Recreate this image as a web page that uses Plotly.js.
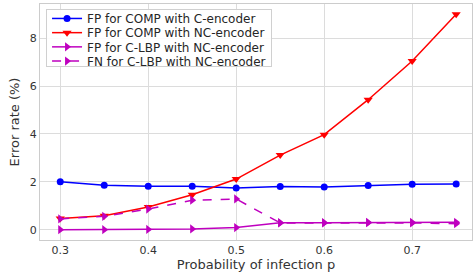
<!DOCTYPE html>
<html>
<head>
<meta charset="utf-8">
<script src="https://cdn.plot.ly/plotly-3.0.1.min.js"></script>
<style>html,body{margin:0;padding:0;background:#fff;}#chart{width:474px;height:273px;}</style>
</head>
<body>
<div id="chart"></div>
<script>
const pValues = [0.3, 0.35, 0.4, 0.45, 0.5, 0.55, 0.6, 0.65, 0.7, 0.75];
const fpCompC = [2.01, 1.86, 1.82, 1.82, 1.75, 1.81, 1.79, 1.85, 1.90, 1.91];
const fpCompNC = [0.48, 0.59, 0.96, 1.47, 2.12, 3.12, 3.97, 5.43, 7.04, 8.99];
const fpClbpNC = [0.01, 0.01, 0.02, 0.04, 0.10, 0.30, 0.30, 0.31, 0.31, 0.32];
const fnClbpNC = [0.46, 0.57, 0.87, 1.24, 1.29, 0.29, 0.29, 0.30, 0.29, 0.26];
const seriesNames = ["FP for COMP with C-encoder", "FP for COMP with NC-encoder", "FP for C-LBP with NC-encoder", "FN for C-LBP with NC-encoder"];

const traces = [
  {x: pValues, y: fpCompC, name: seriesNames[0], mode: 'lines+markers',
   line: {color: '#0000ff', width: 1.5}, marker: {symbol: 'circle', size: 7, color: '#0000ff'}},
  {x: pValues, y: fpCompNC, name: seriesNames[1], mode: 'lines+markers',
   line: {color: '#ff0000', width: 1.5}, marker: {symbol: 'triangle-down', size: 8, color: '#ff0000'}},
  {x: pValues, y: fpClbpNC, name: seriesNames[2], mode: 'lines+markers',
   line: {color: '#bf00bf', width: 1.5}, marker: {symbol: 'triangle-right', size: 8, color: '#bf00bf'}},
  {x: pValues, y: fnClbpNC, name: seriesNames[3], mode: 'lines+markers',
   line: {color: '#bf00bf', width: 1.5, dash: 'dash'}, marker: {symbol: 'triangle-right', size: 8, color: '#bf00bf'}}
];

const layout = {
  width: 474, height: 273,
  margin: {l: 40, r: 2, t: 4, b: 33},
  paper_bgcolor: '#ffffff', plot_bgcolor: '#ffffff',
  font: {family: 'DejaVu Sans, sans-serif', size: 11, color: '#333333'},
  showlegend: true,
  legend: {x: 0.014, y: 0.979, xanchor: 'left', yanchor: 'top', bgcolor: 'rgba(255,255,255,0.9)',
           bordercolor: '#d0d0d0', borderwidth: 1, font: {size: 12, color: '#262626'}, tracegroupgap: 0,
           itemwidth: 30},
  xaxis: {
    range: [0.277, 0.768], tickmode: 'array', tickvals: [0.3, 0.4, 0.5, 0.6, 0.7], ticktext: ['0.3','0.4','0.5','0.6','0.7'],
    showgrid: true, gridcolor: '#dcdcdc', gridwidth: 1, zeroline: false,
    showline: true, linecolor: '#cccccc', linewidth: 1, mirror: true, ticks: '',
    tickfont: {size: 11, color: '#333333'},
    title: {text: 'Probability of infection p', font: {size: 13, color: '#333333'}, standoff: 3}
  },
  yaxis: {
    range: [-0.42, 9.42], tickmode: 'array', tickvals: [0, 2, 4, 6, 8], ticktext: ['0','2','4','6','8'],
    showgrid: true, gridcolor: '#dcdcdc', gridwidth: 1, zeroline: false,
    showline: true, linecolor: '#cccccc', linewidth: 1, mirror: true, ticks: '',
    tickfont: {size: 11, color: '#333333'},
    title: {text: 'Error rate (%)', font: {size: 13, color: '#333333'}, standoff: 7}
  }
};

Plotly.newPlot('chart', traces, layout, {displayModeBar: false, staticPlot: true}).then(function (gd) {
  // tighten legend row spacing to match the reference
  const items = gd.querySelectorAll('.legend .traces');
  if (items.length < 2) return;
  const parse = function (el) {
    const m = /translate\(\s*([-\d.e]+)[ ,]+([-\d.e]+)\s*\)/.exec(el.getAttribute('transform') || '');
    return m ? [parseFloat(m[1]), parseFloat(m[2])] : [0, 0];
  };
  const p0 = parse(items[0]);
  const p1 = parse(items[1]);
  const orig = p1[1] - p0[1];
  const sp = 14.2;
  items.forEach(function (t, i) {
    const p = parse(t);
    t.setAttribute('transform', 'translate(' + p[0] + ',' + (p0[1] - 6 + i * sp) + ')');
  });
  const bg = gd.querySelector('.legend .bg');
  if (bg) {
    const h = parseFloat(bg.getAttribute('height'));
    bg.setAttribute('height', h - (items.length - 1) * (orig - sp) - 16);
  }
});
</script>
</body>
</html>
